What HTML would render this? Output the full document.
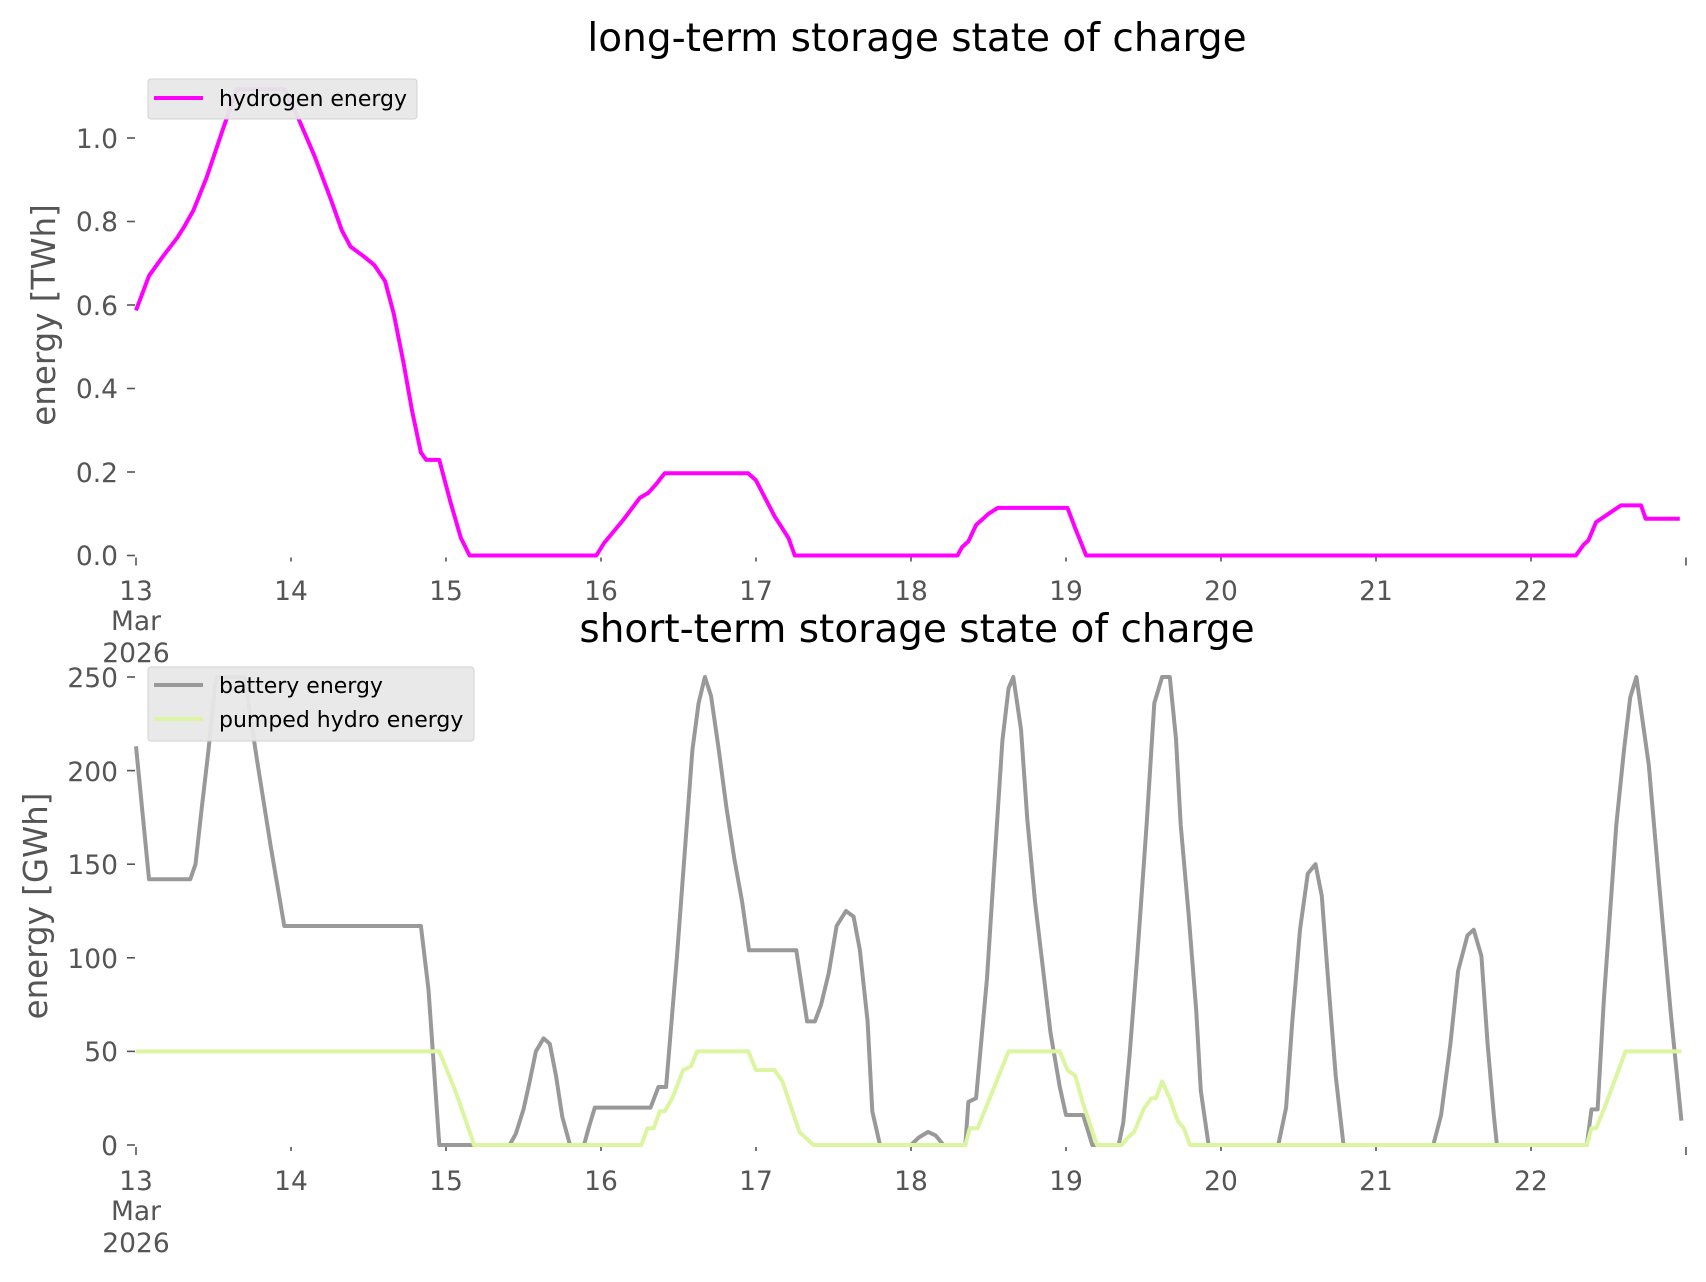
<!DOCTYPE html>
<html><head><meta charset="utf-8"><style>
html,body{margin:0;padding:0;background:#fff}
svg text{font-family:"DejaVu Sans","Liberation Sans",sans-serif}
</style></head><body>
<svg id="s" width="1706" height="1277" viewBox="0 0 1706 1277" xmlns="http://www.w3.org/2000/svg">
<rect width="1706" height="1277" fill="#fff"/>
<text x="917" y="51" font-size="39" text-anchor="middle" fill="#000">long-term storage state of charge</text>
<text x="917" y="642" font-size="39" text-anchor="middle" fill="#000">short-term storage state of charge</text>
<text transform="translate(55,315) rotate(-90)" font-size="32.5" text-anchor="middle" fill="#555">energy [TWh]</text>
<text transform="translate(47,906) rotate(-90)" font-size="32.5" text-anchor="middle" fill="#555">energy [GWh]</text>
<g font-size="26.5" fill="#555" text-anchor="end">
<text x="118" y="565">0.0</text><text x="118" y="482">0.2</text><text x="118" y="398">0.4</text><text x="118" y="315">0.6</text><text x="118" y="231">0.8</text><text x="118" y="148">1.0</text>
<text x="118" y="1155">0</text><text x="118" y="1061">50</text><text x="118" y="968">100</text><text x="118" y="874">150</text><text x="118" y="781">200</text><text x="118" y="687">250</text>
</g>
<g stroke="#555" stroke-width="1.6">
<line x1="127" x2="135" y1="555.5" y2="555.5"/><line x1="127" x2="135" y1="472" y2="472"/><line x1="127" x2="135" y1="388.5" y2="388.5"/><line x1="127" x2="135" y1="305" y2="305"/><line x1="127" x2="135" y1="221.5" y2="221.5"/><line x1="127" x2="135" y1="138" y2="138"/>
<line x1="127" x2="135" y1="1145" y2="1145"/><line x1="127" x2="135" y1="1051.4" y2="1051.4"/><line x1="127" x2="135" y1="957.8" y2="957.8"/><line x1="127" x2="135" y1="864.2" y2="864.2"/><line x1="127" x2="135" y1="770.6" y2="770.6"/><line x1="127" x2="135" y1="677" y2="677"/>
</g>
<g id="xt" font-size="26.5" fill="#555" text-anchor="middle"></g>
<g id="lines" fill="none" stroke-linejoin="round"></g>
<rect x="148" y="79" width="269" height="40" rx="3" fill="#e8e8e8" stroke="#d0d0d0" opacity="0.95"/>
<line x1="154" x2="203" y1="98" y2="98" stroke="#ff00ff" stroke-width="4"/>
<text x="219" y="106" font-size="22" fill="#000">hydrogen energy</text>
<rect x="148" y="667" width="326" height="74" rx="3" fill="#e8e8e8" stroke="#d0d0d0" opacity="0.95"/>
<line x1="154" x2="203" y1="685" y2="685" stroke="#999" stroke-width="4"/>
<line x1="154" x2="203" y1="719" y2="719" stroke="#dcf5a0" stroke-width="4"/>
<text x="219" y="693" font-size="22" fill="#000">battery energy</text>
<text x="219" y="727" font-size="22" fill="#000">pumped hydro energy</text>
</svg>
<script>
var X=function(t){return 136+155*t};
var T=function(v){return 555.5-417.5*v};
var B=function(v){return 1145-1.872*v};
var h2=[[0,.587],[.084,.67],[.175,.717],[.266,.761],[.31,.787],[.37,.826],[.454,.904],[.56,1.02],[.65,1.117],[.957,1.117],[1.048,1.047],[1.153,.956],[1.258,.852],[1.328,.779],[1.384,.74],[1.468,.717],[1.537,.696],[1.607,.657],[1.663,.579],[1.726,.462],[1.782,.345],[1.838,.247],[1.873,.229],[1.957,.229],[2.026,.132],[2.096,.042],[2.152,0],[2.97,0],[3.02,.03],[3.145,.086],[3.25,.138],[3.305,.15],[3.356,.171],[3.41,.197],[3.95,.197],[4.0,.18],[4.12,.094],[4.21,.042],[4.25,0],[5.3,0],[5.33,.02],[5.37,.034],[5.42,.073],[5.5,.1],[5.56,.114],[6.01,.114],[6.06,.065],[6.13,0],[9.29,0],[9.34,.026],[9.37,.036],[9.42,.08],[9.5,.1],[9.58,.12],[9.71,.12],[9.74,.088],[9.96,.088]];
var bat=[[0,213],[.084,142],[.35,142],[.384,150],[.42,177],[.468,211],[.51,246],[.524,250],[.7,250],[.78,206],[.87,159],[.957,117],[1.838,117],[1.887,83],[1.957,0],[2.41,0],[2.45,6],[2.5,19],[2.54,34],[2.58,50],[2.63,57],[2.67,54],[2.71,37],[2.75,15],[2.8,0],[2.89,0],[2.92,9],[2.96,20],[3.32,20],[3.37,31],[3.42,31],[3.49,101],[3.59,211],[3.63,236],[3.67,250],[3.71,240],[3.76,211],[3.81,180],[3.86,153],[3.91,130],[3.955,104],[4.26,104],[4.3,82],[4.33,66],[4.38,66],[4.42,75],[4.47,92],[4.52,117],[4.58,125],[4.63,122],[4.67,104],[4.72,66],[4.75,18],[4.8,0],[5.0,0],[5.05,4],[5.11,7],[5.16,5],[5.21,0],[5.35,0],[5.37,23],[5.42,25],[5.49,89],[5.54,153],[5.59,216],[5.63,244],[5.66,250],[5.71,222],[5.75,174],[5.8,130],[5.85,95],[5.9,60],[5.96,31],[6.0,16],[6.11,16],[6.17,0],[6.34,0],[6.37,12],[6.41,48],[6.46,101],[6.52,171],[6.57,236],[6.62,250],[6.67,250],[6.71,217],[6.74,171],[6.79,124],[6.84,72],[6.87,29],[6.92,0],[7.37,0],[7.42,20],[7.46,66],[7.51,115],[7.56,145],[7.61,150],[7.65,133],[7.69,89],[7.74,37],[7.79,0],[8.37,0],[8.42,16],[8.48,54],[8.53,93],[8.59,112],[8.63,115],[8.68,101],[8.72,54],[8.76,16],[8.78,0],[9.36,0],[9.39,19],[9.43,19],[9.47,78],[9.55,171],[9.6,211],[9.64,239],[9.68,250],[9.76,203],[9.83,136],[9.9,72],[9.97,13]];
var ph=[[0,50],[1.957,50],[2.06,29],[2.17,3],[2.18,0],[3.26,0],[3.3,9],[3.34,9],[3.38,18],[3.41,18],[3.46,25],[3.53,40],[3.58,42],[3.62,50],[3.95,50],[4.0,40],[4.12,40],[4.17,34],[4.28,7],[4.37,0],[5.35,0],[5.38,9],[5.43,9],[5.63,50],[5.96,50],[6.01,40],[6.06,37],[6.11,22],[6.2,0],[6.36,0],[6.4,4],[6.44,7],[6.5,19],[6.55,25],[6.58,25],[6.62,34],[6.67,25],[6.72,13],[6.76,9],[6.8,0],[9.36,0],[9.39,9],[9.42,9],[9.47,19],[9.61,50],[9.97,50]];
var NS="http://www.w3.org/2000/svg",L=document.getElementById('lines');
function pl(d,f,c,w){var p=document.createElementNS(NS,'polyline');p.setAttribute('points',d.map(function(a){return X(a[0]).toFixed(1)+','+f(a[1]).toFixed(1)}).join(' '));p.setAttribute('stroke',c);p.setAttribute('stroke-width',w);L.appendChild(p);}
pl(h2,T,'#ff00ff',4);pl(bat,B,'#999999',4);pl(ph,B,'#dcf5a0',4);
var g=document.getElementById('xt');
[[555.5,600],[1145,1190]].forEach(function(r){
 for(var d=0;d<=10;d++){var ln=document.createElementNS(NS,'line');ln.setAttribute('x1',X(d));ln.setAttribute('x2',X(d));ln.setAttribute('y1',r[0]+2);ln.setAttribute('y2',r[0]+(d==0||d==10?10:6));ln.setAttribute('stroke','#555');ln.setAttribute('stroke-width',1.6);g.appendChild(ln);
 if(d<10){var t=document.createElementNS(NS,'text');t.setAttribute('x',X(d));t.setAttribute('y',r[1]);t.textContent=String(13+d);g.appendChild(t);}}
});
</script>
<div style="position:absolute;left:0;top:0;width:1706px;height:1277px;pointer-events:none;font-family:'DejaVu Sans','Liberation Sans',sans-serif;font-size:26.5px;color:#555">
<div style="position:absolute;left:86px;top:606px;width:100px;text-align:center;line-height:32px">Mar<br>2026</div>
<div style="position:absolute;left:86px;top:1196px;width:100px;text-align:center;line-height:32px">Mar<br>2026</div>
</div>
</body></html>
